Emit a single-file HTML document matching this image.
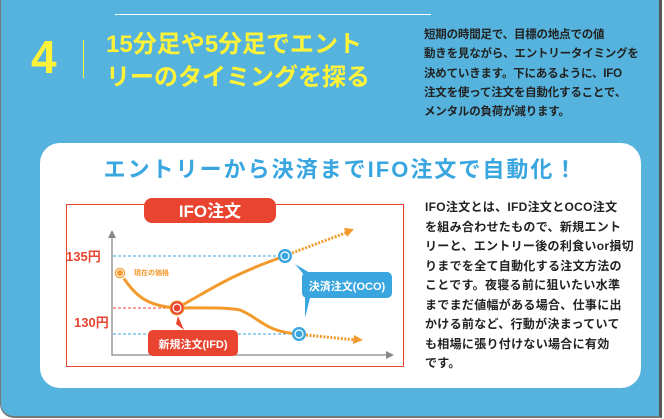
<!DOCTYPE html><html><head><meta charset="utf-8"><style>
body{margin:0;width:664px;height:419px;overflow:hidden;background:#fff;font-family:"Liberation Sans","Noto Sans CJK JP",sans-serif}
#bg{position:absolute;left:0;top:0;width:658px;height:416px;background:#55b3dd;border-right:3px solid #555;border-bottom:2px solid #777;border-left:1px solid #777;border-bottom-left-radius:14px}
.a{position:absolute;white-space:nowrap}
</style></head><body>
<div id="bg"></div>
<div class="a" style="left:115px;top:14px;width:316px;height:1px;background:#fff"></div>
<div class="a" style="left:31px;top:30px;font-size:46px;font-weight:bold;color:#fff33a">4</div>
<div class="a" style="left:83px;top:40px;width:1px;height:38px;background:#fff33a"></div>
<div class="a" style="left:106px;top:28px;font-size:24px;font-weight:bold;color:#fff33a;line-height:33px">15分足や5分足でエント<br>リーのタイミングを探る</div>
<div class="a" style="left:424px;top:26px;font-size:11.5px;font-weight:bold;color:#222;line-height:19.3px;letter-spacing:-0.2px">短期の時間足で、目標の地点での値<br>動きを見ながら、エントリータイミングを<br>決めていきます。下にあるように、IFO<br>注文を使って注文を自動化することで、<br>メンタルの負荷が減ります。</div>
<div class="a" style="left:40px;top:143px;width:601px;height:245px;background:#fff;border-radius:20px"></div>
<div class="a" style="left:0;width:664px;top:152px;text-align:center;font-size:22px;font-weight:bold;color:#3aa6e0;letter-spacing:2px;padding-left:18px;box-sizing:border-box">エントリーから決済までIFO注文で自動化！</div>
<div class="a" style="left:425px;top:198px;font-size:12px;font-weight:bold;color:#222;line-height:19.5px;letter-spacing:0.3px">IFO注文とは、IFD注文とOCO注文<br>を組み合わせたもので、新規エント<br>リーと、エントリー後の利食いor損切<br>りまでを全て自動化する注文方法の<br>ことです。夜寝る前に狙いたい水準<br>までまだ値幅がある場合、仕事に出<br>かける前など、行動が決まっていて<br>も相場に張り付けない場合に有効<br>です。</div>
<svg class="a" style="left:0;top:0" width="664" height="419">
<rect x="66.5" y="204.5" width="337" height="162" fill="none" stroke="#e8442f" stroke-width="1"/>
<rect x="144" y="198" width="132" height="25" rx="8" fill="#e8442f"/>
<text x="210" y="217" text-anchor="middle" font-size="17" font-weight="bold" fill="#fff">IFO注文</text>
<polyline points="112,236 112,355 388,355" fill="none" stroke="#888" stroke-width="1.3"/>
<polygon points="108,238 112,230 116,238" fill="#888"/><polygon points="386,351 394,355 386,359" fill="#888"/>
<line x1="113" y1="256" x2="285" y2="256" stroke="#3aa6e0" stroke-dasharray="3,2"/>
<line x1="113" y1="308" x2="177" y2="308" stroke="#e8442f" stroke-dasharray="3,2"/>
<line x1="113" y1="334" x2="299" y2="334" stroke="#3aa6e0" stroke-dasharray="3,2"/>
<text x="66" y="261" font-size="13" font-weight="bold" fill="#e8442f">135円</text>
<text x="74" y="327" font-size="13" font-weight="bold" fill="#e8442f">130円</text>
<path d="M120,273 C135,295 145,306 177,308 C200,308 225,307 240,310 C260,318 265,332 299,334" fill="none" stroke="#f39a2c" stroke-width="3"/>
<path d="M177,308 C210,290 230,275 285,256" fill="none" stroke="#f39a2c" stroke-width="3"/>
<line x1="292" y1="253" x2="348" y2="232" stroke="#f39a2c" stroke-width="3" stroke-dasharray="2,1.5"/>
<polygon points="344,228 354,229 347,237" fill="#f39a2c"/>
<line x1="306" y1="335" x2="356" y2="340" stroke="#f39a2c" stroke-width="3" stroke-dasharray="2,1.5"/>
<polygon points="354,335 363,340 353,344" fill="#f39a2c"/>
<circle cx="120" cy="273" r="6" fill="#f39a2c" stroke="#fff" stroke-width="1.5"/><circle cx="120" cy="273" r="3.5" fill="none" stroke="#fff" stroke-width="1"/>
<text x="134" y="275" font-size="7" font-weight="bold" fill="#f39a2c">現在の価格</text>
<circle cx="177" cy="308" r="7" fill="#e8442f" stroke="#f39a2c" stroke-width="1"/><circle cx="177" cy="308" r="4" fill="none" stroke="#fff" stroke-width="1.2"/>
<circle cx="285" cy="256" r="7" fill="#3aa6e0"/><circle cx="285" cy="256" r="4" fill="none" stroke="#fff" stroke-width="1.2"/>
<circle cx="299" cy="334" r="7" fill="#3aa6e0"/><circle cx="299" cy="334" r="4" fill="none" stroke="#fff" stroke-width="1.2"/>
<polygon points="176,324 178,316 184,330" fill="#e8442f"/>
<rect x="148" y="330" width="90" height="26" rx="5" fill="#e8442f"/>
<text x="193" y="348" text-anchor="middle" font-size="11" font-weight="bold" fill="#fff">新規注文(IFD)</text>
<polygon points="295,264 305,276 315,276" fill="#3aa6e0"/>
<polygon points="305,290 312,290 305,318" fill="#3aa6e0"/>
<rect x="302" y="272" width="90" height="26" rx="5" fill="#3aa6e0"/>
<text x="347" y="290" text-anchor="middle" font-size="11" font-weight="bold" fill="#fff">決済注文(OCO)</text>
</svg>
</body></html>
